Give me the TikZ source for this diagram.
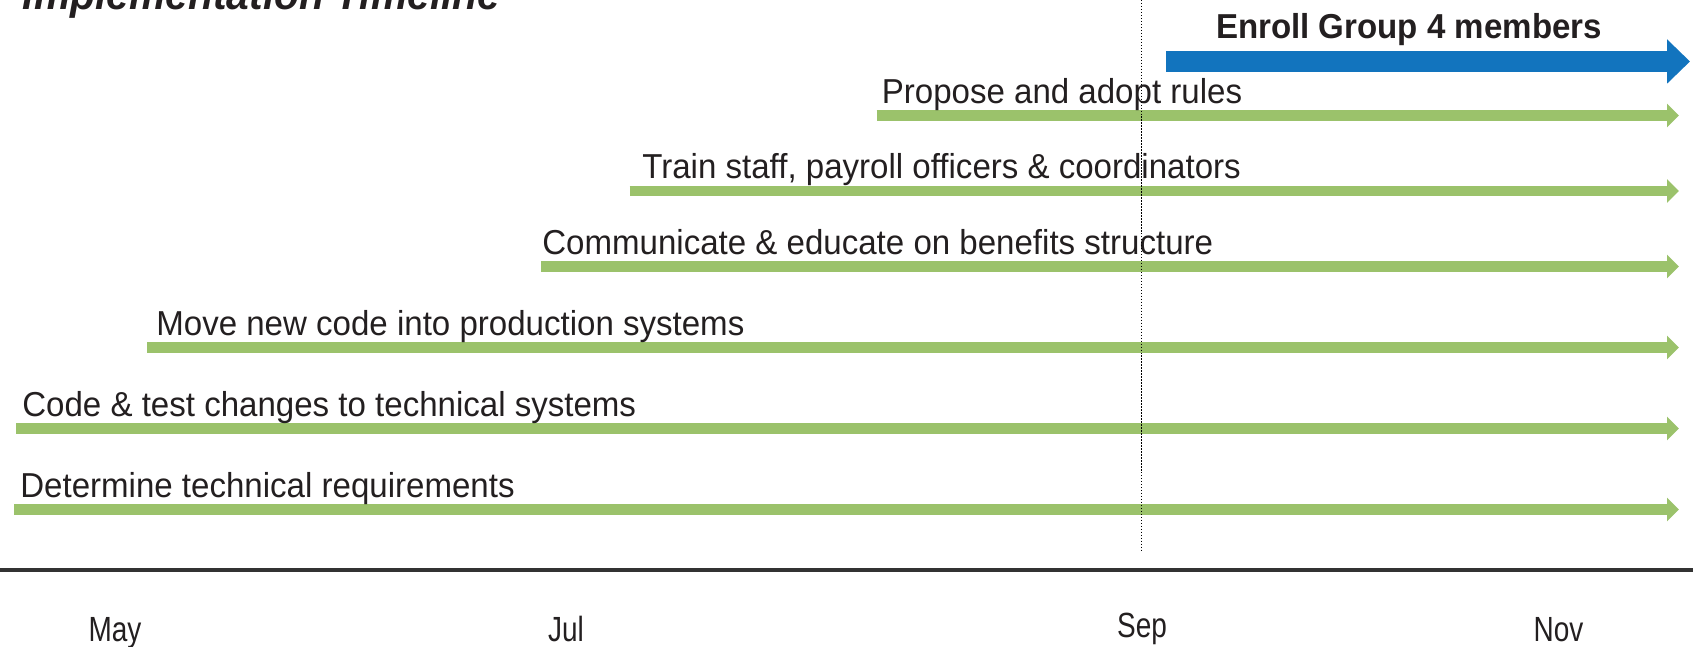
\documentclass[tikz,border=0pt]{standalone}
\usepackage{fontspec}
\setsansfont{Liberation Sans}[FakeStretch=0.955]
\newfontfamily\monthfont{Liberation Sans}[FakeStretch=0.8]
\usepackage{tikz}
\usetikzlibrary{positioning}
\usetikzlibrary{arrows.meta}
\definecolor{inkDark}{RGB}{35,31,32}
\definecolor{barGreen}{RGB}{155,194,107}
\definecolor{barBlue}{RGB}{18,116,190}
\tikzset{%
	% Specifications for style of nodes:
	base/.style = {inner sep=0pt, text=inkDark, font=\sffamily},
	task/.style = {base, anchor=base west, font=\fontsize{19.7pt}{22pt}\selectfont\sffamily},
	milestone/.style = {base, anchor=base, font=\fontsize{19.7pt}{22pt}\selectfont\sffamily\bfseries},
	month/.style = {base, anchor=base, font=\fontsize{19.9pt}{22pt}\selectfont\monthfont},
	heading/.style = {base, anchor=base west, font=\fontsize{24.3pt}{28pt}\selectfont\sffamily\bfseries\itshape},
	% Specifications for style of bars:
	taskBar/.style = {draw=barGreen, line width=0.21cm, -{Triangle[length=0.24cm, width=0.46cm]}},
	enrollBar/.style = {draw=barBlue, line width=0.42cm, -{Triangle[length=0.46cm, width=0.86cm]}},
	axisLine/.style = {draw=black!80, line width=2.2pt},
	todayLine/.style = {draw=black, line width=0.55pt, dash pattern=on 0.85pt off 0.85pt}
}

\begin{document}
\begin{tikzpicture}
		\useasboundingbox (0,0) rectangle (33.86,12.94);
		\node (heading) [heading] at (0.45,12.74) {Implementation Timeline};
		% start and end of every bar
		\coordinate (enrollStart) at (23.32,11.71);
		\coordinate (enrollEnd) at (33.80,11.71);
		\coordinate (proposeStart) at (17.53,10.63);
		\coordinate (proposeEnd) at (33.58,10.63);
		\coordinate (trainStart) at (12.59,9.12);
		\coordinate (trainEnd) at (33.58,9.12);
		\coordinate (communicateStart) at (10.82,7.61);
		\coordinate (communicateEnd) at (33.58,7.61);
		\coordinate (moveStart) at (2.94,5.99);
		\coordinate (moveEnd) at (33.58,5.99);
		\coordinate (codeStart) at (0.32,4.37);
		\coordinate (codeEnd) at (33.58,4.37);
		\coordinate (determineStart) at (0.28,2.75);
		\coordinate (determineEnd) at (33.58,2.75);

		\draw[enrollBar] (enrollStart) -- (enrollEnd);
		\node (enrollText) [milestone] at (28.18,12.16) {Enroll Group 4 members};

		\draw[taskBar] (proposeStart) -- (proposeEnd);
		\node (proposeText) [task, xshift=0.1cm, yshift=0.24cm] at (proposeStart) {Propose and adopt rules};
		\draw[taskBar] (trainStart) -- (trainEnd);
		\node (trainText) [task, xshift=0.25cm, yshift=0.24cm] at (trainStart) {Train staff, payroll officers \& coordinators};
		\draw[taskBar] (communicateStart) -- (communicateEnd);
		\node (communicateText) [task, xshift=0.02cm, yshift=0.24cm] at (communicateStart) {Communicate \& educate on benefits structure};
		\draw[taskBar] (moveStart) -- (moveEnd);
		\node (moveText) [task, xshift=0.18cm, yshift=0.24cm] at (moveStart) {Move new code into production systems};
		\draw[taskBar] (codeStart) -- (codeEnd);
		\node (codeText) [task, xshift=0.12cm, yshift=0.24cm] at (codeStart) {Code \& test changes to technical systems};
		\draw[taskBar] (determineStart) -- (determineEnd);
		\node (determineText) [task, xshift=0.12cm, yshift=0.24cm] at (determineStart) {Determine technical requirements};

		% time axis
		\coordinate (axisLeft) at (0,1.54);
		\coordinate (axisRight) at (33.86,1.54);
		\draw[axisLine] (axisLeft) -- (axisRight);
		\node (may) [month] at (2.30,0.11) {May};
		\node (jul) [month] at (11.32,0.11) {Jul};
		\node (sep) [month] at (22.84,0.18) {Sep};
		\node (nov) [month] at (31.17,0.11) {Nov};

		\coordinate (todayTop) at (22.82,12.94);
		\coordinate (todayBottom) at (22.82,1.94);
		\draw[todayLine] (todayTop) -- (todayBottom);
	\end{tikzpicture}
\end{document}
